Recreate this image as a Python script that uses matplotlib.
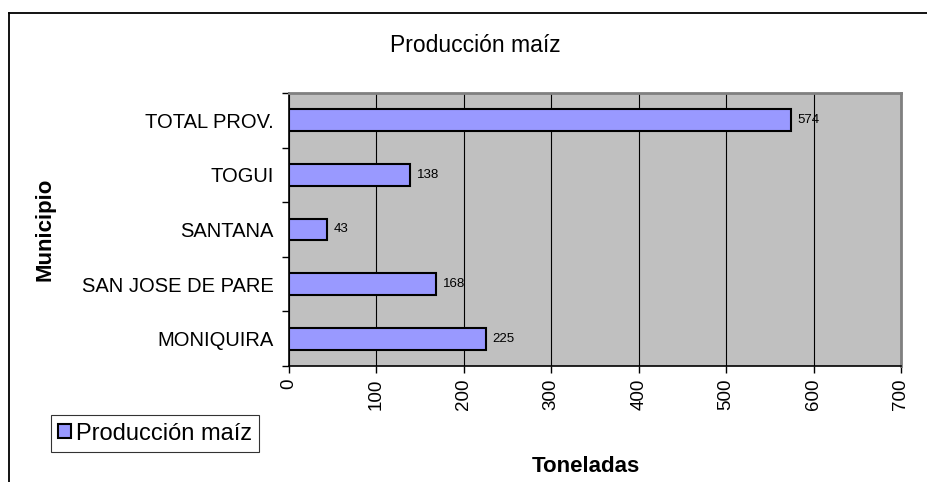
import matplotlib
matplotlib.use("Agg")
import matplotlib.pyplot as plt
from matplotlib.lines import Line2D
from matplotlib.ticker import FixedLocator

# ── data ─────────────────────────────────────────
municipios = ["MONIQUIRA", "SAN JOSE DE PARE", "SANTANA", "TOGUI", "TOTAL PROV."]
toneladas = [225, 168, 43, 138, 574]
x_ticks = [0, 100, 200, 300, 400, 500, 600, 700]

# ── style ────────────────────────────────────────
FONT = ["Liberation Sans", "DejaVu Sans"]
BAR = "#9999FF"
PLOT_BG = "#C0C0C0"
W, H = 928, 482

plt.rcParams["font.family"] = FONT

fig = plt.figure(figsize=(W / 100, H / 100), dpi=100)
fig.patch.set_facecolor("white")

# plot area in pixels: x 289..901, y 93..366
ax = fig.add_axes([289 / W, 1 - 366 / H, 612 / W, 273 / H])
ax.set_facecolor(PLOT_BG)

ypos = range(len(municipios))
bars = ax.barh(ypos, toneladas, height=0.4, color=BAR,
               edgecolor="black", linewidth=1.5, zorder=3)

for y, v in zip(ypos, toneladas):
    ax.annotate(str(v), (v, y), xytext=(5, 0), textcoords="offset points",
                va="center", ha="left", fontsize=9.5, zorder=4)

ax.set_xlim(0, 700)
ax.set_ylim(-0.5, len(municipios) - 0.5)
ax.set_xticks(x_ticks)
ax.set_xticklabels([str(t) for t in x_ticks], rotation=90, fontsize=13.5)
ax.xaxis.grid(True, color="black", linewidth=0.8, zorder=1)
ax.set_axisbelow(True)

ax.set_yticks(list(ypos))
ax.set_yticklabels(municipios, fontsize=14.5)
ax.yaxis.set_minor_locator(FixedLocator([i - 0.5 for i in range(len(municipios) + 1)]))
ax.tick_params(axis="y", which="major", length=0, pad=11)
ax.tick_params(axis="y", which="minor", length=5, width=1, direction="out")
ax.tick_params(axis="x", length=5, width=1, direction="out", pad=4)

for side in ["top", "right"]:
    ax.spines[side].set_color("#808080")
    ax.spines[side].set_linewidth(2)
for side in ["left", "bottom"]:
    ax.spines[side].set_color("black")
    ax.spines[side].set_linewidth(1.2)

# titles
fig.text(475 / W, 1 - 45 / H, "Producción maíz", ha="center", va="center", fontsize=16.5)
fig.text(45 / W, 1 - 229 / H, "Municipio", ha="center", va="center",
         rotation=90, fontsize=16, fontweight="bold")
fig.text(586 / W, 1 - 466 / H, "Toneladas", ha="center", va="center",
         fontsize=16, fontweight="bold")

# legend
leg = fig.legend([bars], ["Producción maíz"], loc="center",
                 bbox_to_anchor=(155 / W, 1 - 433.5 / H), fontsize=17,
                 frameon=True, fancybox=False, shadow=False,
                 handlelength=0.55, handleheight=0.55, handletextpad=0.2,
                 borderpad=0.3, borderaxespad=0)
leg.get_frame().set_edgecolor("black")
leg.get_frame().set_linewidth(0.8)

# outer chart-area border (continues past right and bottom edges)
bx, by = 9.5 / W, 1 - 12.5 / H
fig.add_artist(Line2D([bx, bx], [0, by], color="black", linewidth=1.3, transform=fig.transFigure))
fig.add_artist(Line2D([bx, 1], [by, by], color="black", linewidth=1.3, transform=fig.transFigure))

fig.savefig("out.png", dpi=100)
